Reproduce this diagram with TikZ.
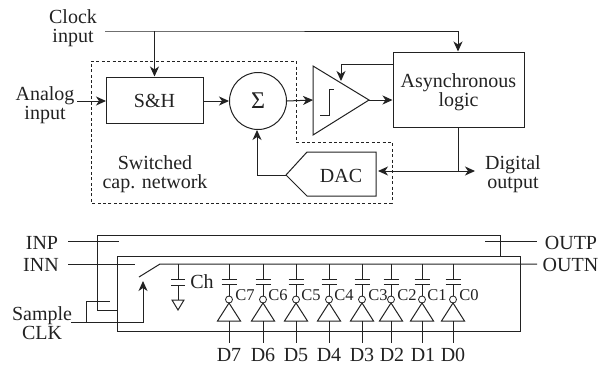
\documentclass[tikz,border=0pt]{standalone}
\usepackage{fontspec}
\setmainfont{Liberation Serif}
\usetikzlibrary{arrows.meta,calc}
\definecolor{ink}{HTML}{222222}
\tikzset{
 lbl/.style={inner sep=0pt,align=center,font=\fontsize{20}{19}\selectfont,text=ink},
 clbl/.style={inner sep=0pt,font=\fontsize{16.5}{16}\selectfont,text=ink},
 wire/.style={draw=ink,line width=1pt},
 thin wire/.style={draw=ink,line width=0.8pt},
 arr/.style={wire,-{Stealth[length=10pt,width=9pt,inset=3pt]}},
 block/.style={draw=ink,line width=1pt,rectangle,inner sep=0pt,align=center,font=\fontsize{20}{19}\selectfont,text=ink},
 dash box/.style={draw=ink,line width=0.8pt,dash pattern=on 3pt off 2.4pt},
 bubble/.style={circle,draw=ink,line width=0.8pt,minimum size=7pt,inner sep=0pt},
}
\begin{document}
\begin{tikzpicture}[x=1pt,y=-1pt]
\useasboundingbox (0,0) rectangle (612,365);
% --- upper diagram ---
\draw[dash box] (91,61) -- (296,61) -- (296,142) -- (392,142) -- (392,203) -- (91,203) -- cycle;
\node[lbl] (clk) at (73,28.5) {Clock\\input};
\node[lbl] (analog) at (45,105.5) {Analog\\input};
\node[block,minimum width=97pt,minimum height=46pt] (sh) at (154.5,100) {\rule{0pt}{15.5pt}S\&H};
\node[circle,draw=ink,line width=1pt,minimum size=57pt,inner sep=0pt,font=\fontsize{24}{24}\selectfont,text=ink] (sum) at (258,101) {Σ};
\node[lbl] (scn) at (155,174.5) {Switched\\cap. network};
\node[block,minimum width=131pt,minimum height=75pt] (async) at (458.5,89.5) {\rule{0pt}{20pt}Asynchronous\\logic};
\node[lbl] (dout) at (513,174.5) {Digital\\output};
\coordinate (cmpa) at (313,66);
\coordinate (cmpb) at (313,135);
\coordinate (cmpt) at (369,100);
\draw[wire,line join=miter] (cmpa) -- (cmpt) -- (cmpb) -- cycle;
\draw[thin wire] (320,115) -- (329,115) -- (329,89) -- (334,89);
\coordinate (daca) at (286,175);
\coordinate (dacb) at (307,152);
\coordinate (dacc) at (376,152);
\coordinate (dacd) at (376,196);
\coordinate (dace) at (307,196);
\draw[wire] (daca) -- (dacb) -- (dacc) -- (dacd) -- (dace) -- cycle;
\node[lbl] (dac) at (341,176) {DAC};
% connectors
\coordinate (clks) at (105,31);
\coordinate (clkj) at (154.5,31);
\coordinate (clke) at (458,31);
\draw[wire] (clks) -- (clkj) -- (clke);
\draw[arr] (clke) -- (clke |- async.north);
\draw[arr] (clkj) -- (sh.north);
\coordinate (ana) at (77,101);
\coordinate (anb) at (106,101);
\draw[arr] (ana) -- (anb);
\coordinate (shb) at (203,101);
\draw[arr] (shb) -- (sum.west);
\draw[arr] (sum.east) -- (cmpa |- cmpt);
\draw[arr] (cmpt) -- (async.west |- cmpt);
\coordinate (fbs) at (393,64);
\coordinate (fbk) at (341,64);
\coordinate (fbe) at (341,81);
\draw[arr] (fbs) -- (fbk) -- (fbe);
\coordinate (outj) at (458,171);
\coordinate (oute) at (475,171);
\coordinate (dacin) at (378,171);
\draw[wire] (outj |- async.south) -- (outj);
\draw[arr] (outj) -- (oute);
\draw[arr] (outj) -- (dacin);
\coordinate (dacfb) at (257,175);
\coordinate (sumin) at (257,130);
\draw[arr] (daca) -- (dacfb) -- (sumin);
% --- lower diagram ---
\node[lbl] (inp) at (42,243) {INP};
\node[lbl] (inn) at (41,265) {INN};
\node[lbl] (outp) at (571,243) {OUTP};
\node[lbl] (outn) at (570.5,265) {OUTN};
\node[lbl] (sclk) at (42,323.5) {Sample\\CLK};
\draw[wire] (117.5,310) -- (97,310) -- (97,235) -- (500,235) -- (500,256);
\draw[wire] (117.5,256) rectangle (520,331);
\coordinate (inps) at (68,241);
\coordinate (inpe) at (119,241);
\coordinate (outps) at (485,241);
\coordinate (outpe) at (537,241);
\coordinate (inns) at (68,264);
\coordinate (inne) at (135,264);
\draw[wire] (inps) -- (inpe);
\draw[wire] (inns) -- (inne);
\draw[wire] (outps) -- (outpe);
\coordinate (swa) at (139,277);
\coordinate (swb) at (160,264);
\coordinate (outne) at (537,264);
\draw[wire] (swa) -- (swb) -- (outne);
\coordinate (clka) at (71,322.5);
\coordinate (clkb) at (86,322.5);
\coordinate (clkc) at (143,322.5);
\coordinate (clkd) at (143,281);
\coordinate (clke2) at (86,301);
\coordinate (clkf) at (110,301);
\draw[wire] (clka) -- (clkb) -- (clkc);
\draw[arr] (clkc) -- (clkd);
\draw[wire] (clkb) -- (clke2) -- (clkf);
% Ch
\coordinate (cht) at (178,264);
\coordinate (chu) at (178,279);
\coordinate (chl) at (178,285);
\coordinate (chg) at (178,300);
\draw[wire] (cht) -- (chu) (chl) -- (chg);
\draw[wire] (171,279) -- (185,279) (171,285) -- (185,285);
\draw[wire] (172,300) -- (184,300) -- (178,310) -- cycle;
\node[lbl] (ch) at (202,282) {Ch};
% capacitor / inverter columns
\foreach \n/\x/\lx/\dx in {7/229/245/229,6/263/278/263,5/296/311/296,4/329/344/329,3/362/378/362,2/391/407/392,1/422/437/423,0/453/469/453}{
  \coordinate (t\n) at (\x,264);
  \coordinate (pu\n) at (\x,279);
  \coordinate (pl\n) at (\x,284);
  \draw[wire] (t\n) -- (pu\n);
  \draw[wire] ($(pu\n)+(-7.5,0)$) -- ($(pu\n)+(7.5,0)$);
  \draw[wire] ($(pl\n)+(-7.5,0)$) -- ($(pl\n)+(7.5,0)$);
  \node[bubble] (b\n) at (\x,299.5) {};
  \draw[wire] (pl\n) -- (b\n.north);
  \coordinate (ia\n) at (\x,303);
  \coordinate (ib\n) at (\x-11.5,321);
  \coordinate (ic\n) at (\x+11.5,321);
  \draw[wire] (ia\n) -- (ib\n) -- (ic\n) -- cycle;
  \node[clbl] (c\n) at (\lx,295) {C\n};
  \node[lbl] (d\n) at (\dx,355) {D\n};
  \coordinate (ibm\n) at (\x,321);
  \draw[wire] (ibm\n) -- (\x,343);
}
\end{tikzpicture}
\end{document}
